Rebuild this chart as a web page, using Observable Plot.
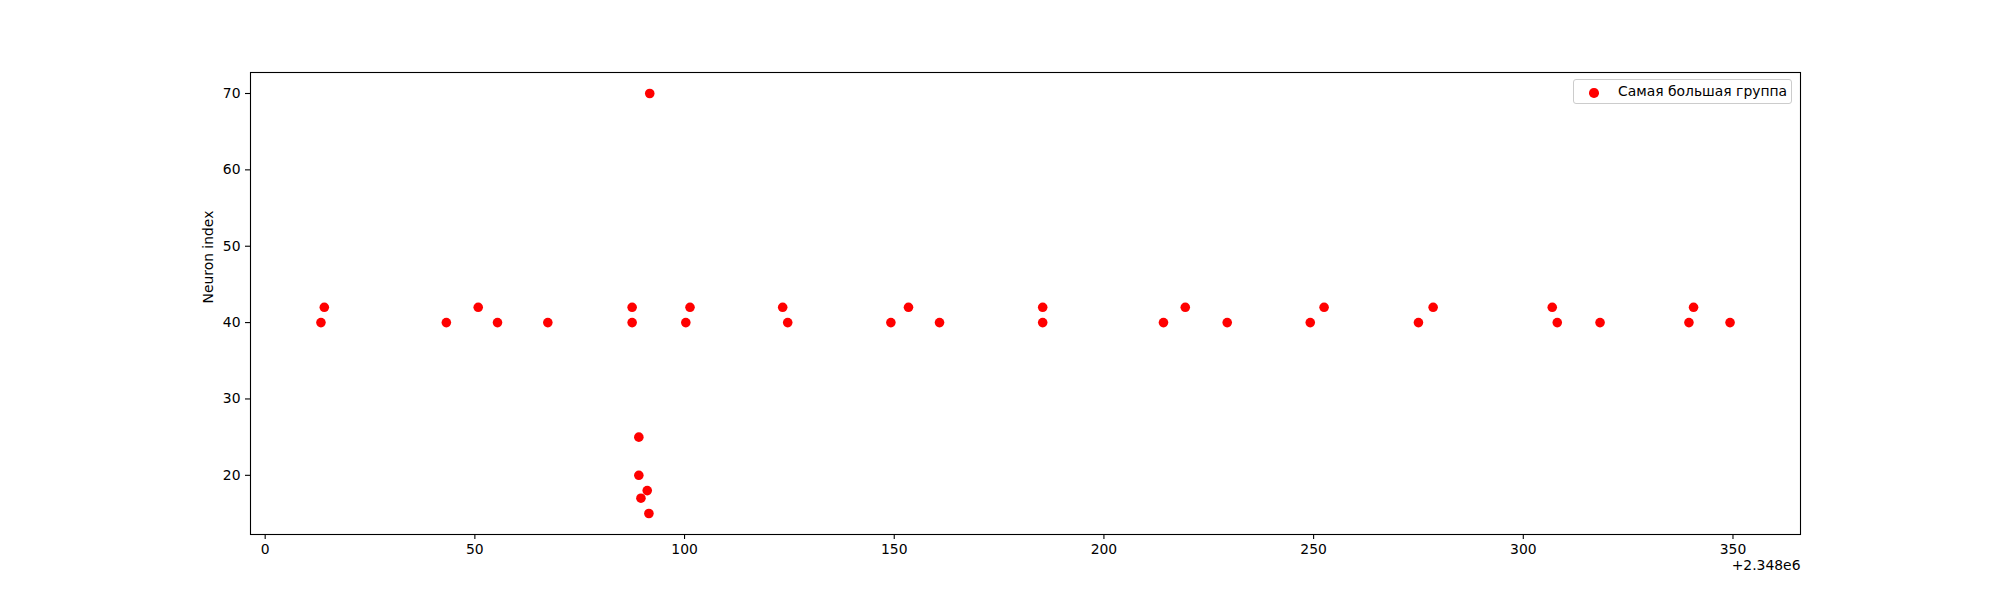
<!DOCTYPE html>
<html>
<head>
<meta charset="utf-8">
<script src="https://cdn.jsdelivr.net/npm/d3@7"></script>
<script src="https://cdn.jsdelivr.net/npm/@observablehq/plot@0.6"></script>
<style>
  html, body { margin: 0; padding: 0; background: #fff; }
  #wrap { position: relative; width: 2000px; height: 600px; font-family: "DejaVu Sans", sans-serif; }
  #legend {
    position: absolute; left: 1573px; top: 79px; width: 219px; height: 25px;
    border: 1px solid #cccccc; border-radius: 3px; background: rgba(255,255,255,0.8);
    box-sizing: border-box;
  }
  #legend .dot { position: absolute; left: 15px; top: 8px; width: 9.6px; height: 9.6px; border-radius: 50%; background: #ff0000; }
  #legend .lab { position: absolute; left: 44px; top: 3px; font-size: 13.9px; line-height: 17px; color: #000; white-space: nowrap; }
</style>
</head>
<body>
<div id="wrap">
  <div id="chart"></div>
  <div id="legend"><div class="dot"></div><div class="lab">Самая большая группа</div></div>
</div>
<script>
// Data (x = spike time offset from base, y = neuron index)
const xBase = 2348000;
const xOffsets = [13.3, 14.1, 43.2, 50.8, 55.4, 67.4, 87.5, 87.5, 89.1, 89.1, 89.6, 91.1, 91.5, 91.7,
  100.3, 101.3, 123.4, 124.6, 149.2, 153.4, 160.8, 185.4, 185.4, 214.2, 219.4, 229.4, 249.2, 252.5,
  275.0, 278.5, 306.9, 308.1, 318.3, 339.5, 340.6, 349.3];
const neuronIndex = [40, 42, 40, 42, 40, 40, 42, 40, 25, 20, 17, 18, 15, 70,
  40, 42, 42, 40, 40, 42, 40, 42, 40, 40, 42, 40, 40, 42,
  40, 42, 42, 40, 40, 40, 42, 40];
const xTickOffsets = [0, 50, 100, 150, 200, 250, 300, 350];
const yTicks = [20, 30, 40, 50, 60, 70];
const yLabel = "Neuron index";
const offsetLabel = "+2.348e6";
const legendLabel = "Самая большая группа";

const data = xOffsets.map((o, i) => ({x: xBase + o, y: neuronIndex[i]}));

function padded(vals) {
  const [a, b] = d3.extent(vals);
  const m = (b - a) * 0.05;
  return [a - m, b + m];
}

const chart = Plot.plot({
  width: 2000,
  height: 600,
  marginLeft: 250,
  marginRight: 200,
  marginTop: 72,
  marginBottom: 66,
  style: {fontFamily: "DejaVu Sans, sans-serif", fontSize: "13.9px", color: "#000", background: "#fff"},
  x: {domain: padded(data.map(d => d.x)), label: null},
  y: {domain: padded(data.map(d => d.y)), label: null},
  marks: [
    Plot.dot(data, {x: "x", y: "y", r: 4.8, fill: "#ff0000", stroke: null}),
    Plot.frame({stroke: "#000", strokeWidth: 1.1}),
    Plot.axisX({
      ticks: xTickOffsets.map(o => xBase + o),
      tickFormat: d => String(Math.round(d - xBase)),
      tickSize: 5, tickPadding: 5, strokeWidth: 1.1, label: null, fontSize: 13.9
    }),
    Plot.axisY({
      ticks: yTicks, tickFormat: d => String(d),
      tickSize: 5, tickPadding: 5, strokeWidth: 1.1, label: null, fontSize: 13.9
    }),
    Plot.text([yLabel], {text: d => d, frameAnchor: "left", rotate: -90, dx: -42, fontSize: 13.9, fill: "#000"}),
    Plot.text([offsetLabel], {text: d => d, frameAnchor: "bottom-right", textAnchor: "end", dy: 35, fontSize: 13.9, fill: "#000"})
  ]
});
document.getElementById("chart").appendChild(chart);
document.querySelector("#legend .lab").textContent = legendLabel;
</script>
</body>
</html>
